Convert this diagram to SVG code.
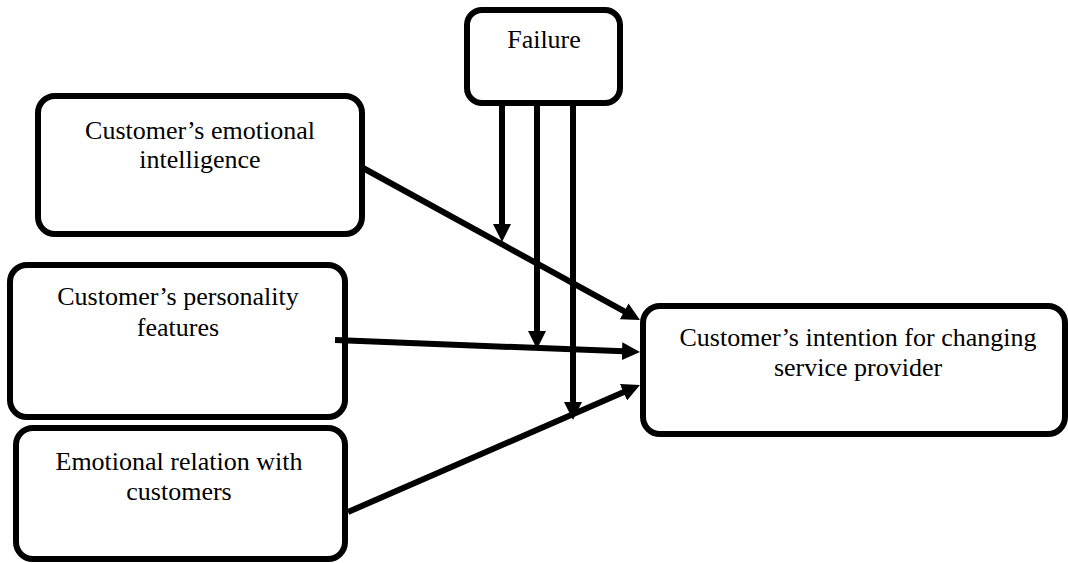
<svg xmlns="http://www.w3.org/2000/svg" width="1068" height="563" viewBox="0 0 1068 563">
<style>
.box{fill:#fff;stroke:#000;stroke-width:6}
.lbl{font-family:'Liberation Serif','Times New Roman','DejaVu Serif',serif;font-size:26px;fill:#000;text-anchor:middle}
.con{stroke:#000;stroke-width:6;fill:none;marker-end:url(#ah)}
</style>
<defs>
<marker id="ah" viewBox="0 0 18 18" refX="8" refY="9" markerWidth="18" markerHeight="18" markerUnits="userSpaceOnUse" orient="auto">
<path d="M0,0 L18,9 L0,18 z" fill="#000"/>
</marker>
</defs>
<rect width="1068" height="563" fill="#fff"/>
<g id="failure">
<rect class="box" x="467" y="10" width="153" height="93" rx="15"/>
<text class="lbl" font-family="Liberation Serif, serif" x="544" y="48">Failure</text>
</g>
<g id="emotional-intelligence">
<rect class="box" x="38" y="96" width="324" height="138" rx="17"/>
<text class="lbl" font-family="Liberation Serif, serif" x="200" y="139">Customer’s emotional</text>
<text class="lbl" font-family="Liberation Serif, serif" x="200" y="168">intelligence</text>
</g>
<g id="personality">
<rect class="box" x="10" y="265" width="335" height="152" rx="17"/>
<text class="lbl" font-family="Liberation Serif, serif" x="178" y="305">Customer’s personality</text>
<text class="lbl" font-family="Liberation Serif, serif" x="178" y="336">features</text>
</g>
<g id="emotional-relation">
<rect class="box" x="16" y="428" width="329" height="131" rx="17"/>
<text class="lbl" font-family="Liberation Serif, serif" x="179" y="470">Emotional relation with</text>
<text class="lbl" font-family="Liberation Serif, serif" x="179" y="500">customers</text>
</g>
<g id="intention">
<rect class="box" x="643" y="306" width="422" height="128" rx="17"/>
<text class="lbl" font-family="Liberation Serif, serif" x="858" y="346">Customer’s intention for changing</text>
<text class="lbl" font-family="Liberation Serif, serif" x="858" y="376">service provider</text>
</g>
<g id="connectors">
<line class="con" x1="363" y1="168" x2="631.2" y2="315.2"/>
<line class="con" x1="335" y1="340" x2="630" y2="351.6"/>
<line class="con" x1="348" y1="512" x2="630.8" y2="389"/>
<line class="con" x1="502" y1="103" x2="502" y2="232"/>
<line class="con" x1="537" y1="103" x2="537" y2="339"/>
<line class="con" x1="573" y1="103" x2="573" y2="410"/>
</g>
</svg>
